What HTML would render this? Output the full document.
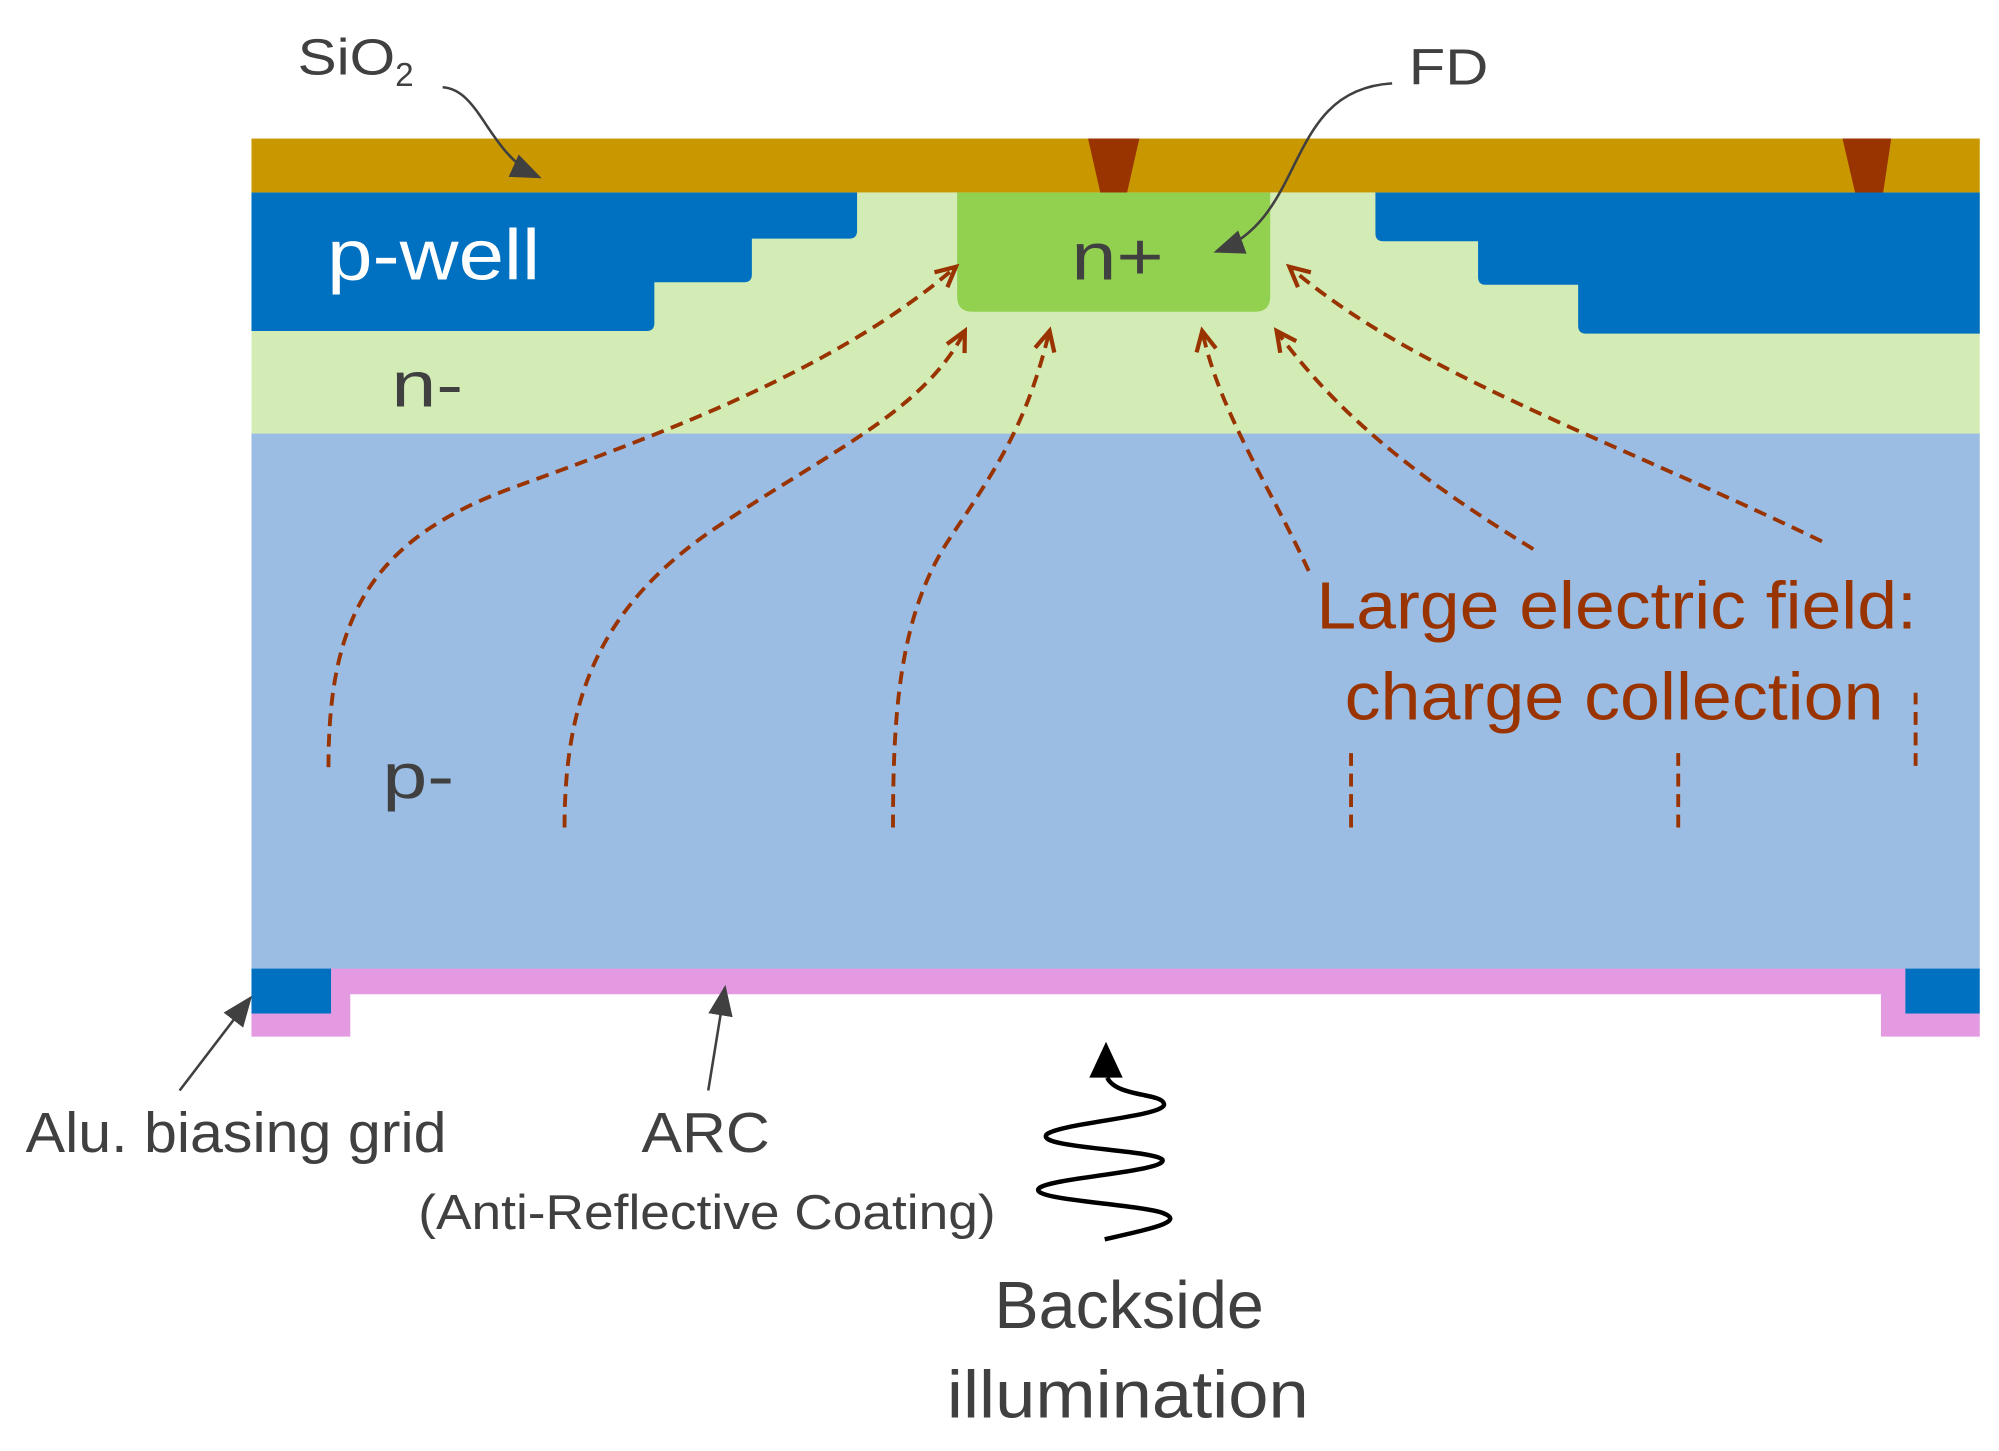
<!DOCTYPE html>
<html><head><meta charset="utf-8"><style>html,body{margin:0;padding:0;background:#fff}svg{display:block}</style></head>
<body>
<svg width="1999" height="1451" viewBox="0 0 1558 1131" preserveAspectRatio="none" xmlns="http://www.w3.org/2000/svg" font-family="Liberation Sans, sans-serif">
<defs>
<marker id="ch" viewBox="0 0 20 20" refX="16" refY="10" markerWidth="22" markerHeight="22" markerUnits="userSpaceOnUse" orient="auto">
<polyline points="2,3 16,10 2,17" fill="none" stroke="#993300" stroke-width="3"/>
</marker>
<marker id="fa" viewBox="0 0 20 20" refX="18" refY="10" markerWidth="24" markerHeight="24" markerUnits="userSpaceOnUse" orient="auto">
<polygon points="0,2 20,10 0,18" fill="#404040"/>
</marker>
</defs>
<rect x="196" y="150" width="1347" height="190" fill="#d3ecb6"/>
<rect x="196" y="338" width="1347" height="418" fill="#9bbce3"/>
<rect x="196" y="108" width="1347" height="42" fill="#c99700"/>
<polygon points="848,108 888,108 878,152 858,152" fill="#993300"/>
<polygon points="1436,108 1474,108 1467,155 1447,155" fill="#993300"/>
<path d="M196,150 H668 V180 Q668,186 662,186 H586 V214 Q586,220 580,220 H510 V252 Q510,258 504,258 H196 Z" fill="#0070c0"/>
<path d="M1543,150 H1072 V182 Q1072,188 1078,188 H1152 V216 Q1152,222 1158,222 H1230 V254 Q1230,260 1236,260 H1543 Z" fill="#0070c0"/>
<path d="M746,150 H990 V231 Q990,243 978,243 H758 Q746,243 746,231 Z" fill="#92d050"/>
<path d="M258,755 H1485 V790 H1543 V808 H1466 V775 H273 V808 H196 V790 H258 Z" fill="#e39ae0"/>
<rect x="196" y="755" width="62" height="35" fill="#0070c0"/>
<rect x="1485" y="755" width="58" height="35" fill="#0070c0"/>
<g fill="none" stroke="#993300" stroke-width="3" stroke-dasharray="10,6">
<path d="M256,598 C256,480 290,420 400,380 S650,290 745,208" marker-end="url(#ch)"/>
<path d="M440,645 C440,540 470,470 560,410 S720,320 752,258" marker-end="url(#ch)"/>
<path d="M696,645 C696,560 700,480 740,420 S800,330 818,258" marker-end="url(#ch)"/>
<path d="M1020,445 C990,380 950,320 937,258" marker-end="url(#ch)"/>
<path d="M1195,428 C1100,370 1040,320 995,258" marker-end="url(#ch)"/>
<path d="M1420,422 C1250,340 1100,290 1005,208" marker-end="url(#ch)"/>
<path d="M1053,645 V585"/>
<path d="M1308,645 V585"/>
<path d="M1493,597 V540"/>
</g>
<g fill="none" stroke="#404040" stroke-width="2">
<path d="M345,68 C375,70 380,120 420,138" marker-end="url(#fa)"/>
<path d="M1085,65 C1000,70 1020,170 948,196" marker-end="url(#fa)"/>
<path d="M140,850 L195,778" marker-end="url(#fa)"/>
<path d="M552,850 L565,770" marker-end="url(#fa)"/>
</g>
<path d="M861,966 C900,957 925,952 905,945 C880,938 800,935 810,926 C820,918 910,913 906,904 C900,896 805,895 816,884 C828,875 912,870 907,860 C905,852 870,855 863,840" fill="none" stroke="#000" stroke-width="3.5"/>
<polygon points="862,812 875,840 849,840" fill="#000"/>
<g fill="#404040">
<text x="232" y="58" font-size="40" textLength="76" lengthAdjust="spacingAndGlyphs">SiO</text><text x="308" y="67" font-size="26">2</text>
<text x="1098" y="66" font-size="40" textLength="62" lengthAdjust="spacingAndGlyphs">FD</text>
<text x="835" y="218" font-size="52" textLength="72" lengthAdjust="spacingAndGlyphs">n+</text>
<text x="305" y="317" font-size="50" textLength="56" lengthAdjust="spacingAndGlyphs">n-</text>
<text x="298" y="622" font-size="50" textLength="56" lengthAdjust="spacingAndGlyphs">p-</text>
<text x="20" y="898" font-size="44" textLength="328" lengthAdjust="spacingAndGlyphs">Alu. biasing grid</text>
<text x="500" y="898" font-size="44" textLength="100" lengthAdjust="spacingAndGlyphs">ARC</text>
<text x="326" y="958" font-size="38" textLength="450" lengthAdjust="spacingAndGlyphs">(Anti-Reflective Coating)</text>
<text x="775" y="1035" font-size="52" textLength="210" lengthAdjust="spacingAndGlyphs">Backside</text>
<text x="738" y="1105" font-size="52" textLength="282" lengthAdjust="spacingAndGlyphs">illumination</text>
</g>
<text x="255" y="218" font-size="56" fill="#fff" textLength="166" lengthAdjust="spacingAndGlyphs">p-well</text>
<g fill="#993300">
<text x="1026" y="490" font-size="52" textLength="468" lengthAdjust="spacingAndGlyphs">Large electric field:</text>
<text x="1048" y="561" font-size="52" textLength="420" lengthAdjust="spacingAndGlyphs">charge collection</text>
</g>
</svg>
</body></html>
